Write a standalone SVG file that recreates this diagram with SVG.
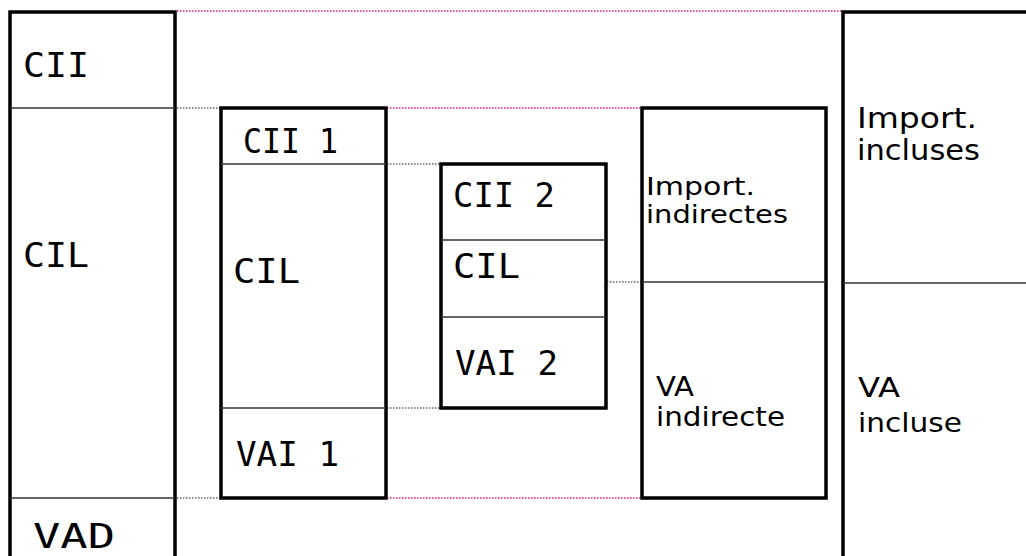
<svg xmlns="http://www.w3.org/2000/svg" width="1026" height="556" viewBox="0 0 1026 556">
<style>
.box{fill:none;stroke:#000;stroke-width:3.5}
.div{stroke:#333;stroke-width:1.5}
.pk{stroke:#e8168a;stroke-width:1.5;stroke-dasharray:1.5 1.5}
.gr{stroke:#666;stroke-width:1.5;stroke-dasharray:1.5 1.5}
.m{font-family:"DejaVu Sans Mono","Liberation Mono",monospace;font-size:34px;fill:#000}
.p{font-family:"DejaVu Sans","Liberation Sans",sans-serif;fill:#000}
</style>
<rect width="1026" height="556" fill="#fff"/>
<g id="connectors">
<line class="pk" x1="177" y1="11" x2="842" y2="11"/>
<line class="gr" x1="177" y1="108" x2="220" y2="108"/>
<line class="pk" x1="387" y1="108" x2="641" y2="108"/>
<line class="gr" x1="387" y1="164" x2="440" y2="164"/>
<line class="gr" x1="387" y1="408" x2="440" y2="408"/>
<line class="gr" x1="607" y1="282" x2="641" y2="282"/>
<line class="gr" x1="177" y1="498" x2="220" y2="498"/>
<line class="pk" x1="387" y1="498" x2="641" y2="498"/>
</g>
<g id="left">
<path class="box" d="M10,560 V12 H175 V560"/>
<line class="div" x1="10" y1="108" x2="175" y2="108"/>
<line class="div" x1="10" y1="498" x2="175" y2="498"/>
<text class="m" x="23" y="77" textLength="66" lengthAdjust="spacingAndGlyphs">CII</text>
<text class="m" x="23" y="267" textLength="66" lengthAdjust="spacingAndGlyphs">CIL</text>
<text class="m" x="33" y="548" textLength="82" lengthAdjust="spacingAndGlyphs">VAD</text>
</g>
<g id="box1">
<rect class="box" x="221" y="108" width="165" height="390"/>
<line class="div" x1="221" y1="164" x2="386" y2="164"/>
<line class="div" x1="221" y1="408" x2="386" y2="408"/>
<text class="m" x="243" y="153" textLength="95" lengthAdjust="spacingAndGlyphs">CII 1</text>
<text class="m" x="233" y="283" textLength="67" lengthAdjust="spacingAndGlyphs">CIL</text>
<text class="m" x="236" y="466" textLength="103" lengthAdjust="spacingAndGlyphs">VAI 1</text>
</g>
<g id="box2">
<rect class="box" x="441" y="164" width="165" height="244"/>
<line class="div" x1="441" y1="240" x2="606" y2="240"/>
<line class="div" x1="441" y1="317" x2="606" y2="317"/>
<text class="m" x="453" y="207" textLength="102" lengthAdjust="spacingAndGlyphs">CII 2</text>
<text class="m" x="453" y="278" textLength="67" lengthAdjust="spacingAndGlyphs">CIL</text>
<text class="m" x="455" y="375" textLength="103" lengthAdjust="spacingAndGlyphs">VAI 2</text>
</g>
<g id="box3">
<rect class="box" x="642" y="108" width="184" height="390"/>
<line class="div" x1="642" y1="282" x2="826" y2="282"/>
<text class="p" font-size="25" x="646" y="195" textLength="109" lengthAdjust="spacingAndGlyphs">Import.</text>
<text class="p" font-size="25" x="646" y="223" textLength="142" lengthAdjust="spacingAndGlyphs">indirectes</text>
<text class="p" font-size="26" x="656" y="396" textLength="38" lengthAdjust="spacingAndGlyphs">VA</text>
<text class="p" font-size="26" x="656" y="426" textLength="129" lengthAdjust="spacingAndGlyphs">indirecte</text>
</g>
<g id="right">
<path class="box" d="M1030,12 H843 V560"/>
<line class="div" x1="843" y1="283" x2="1026" y2="283"/>
<text class="p" font-size="28" x="857" y="128" textLength="120" lengthAdjust="spacingAndGlyphs">Import.</text>
<text class="p" font-size="28" x="857" y="160" textLength="123" lengthAdjust="spacingAndGlyphs">incluses</text>
<text class="p" font-size="27" x="858" y="397" textLength="42" lengthAdjust="spacingAndGlyphs">VA</text>
<text class="p" font-size="27" x="858" y="432" textLength="104" lengthAdjust="spacingAndGlyphs">incluse</text>
</g>
</svg>
